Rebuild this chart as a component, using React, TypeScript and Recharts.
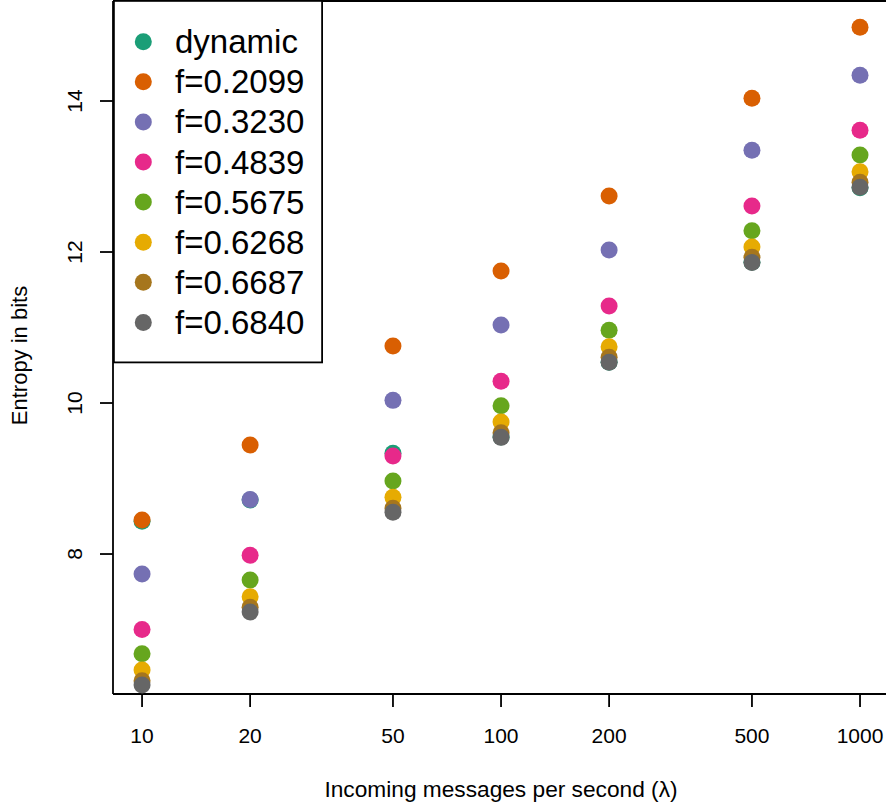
import React from 'react';
import { ScatterChart, Scatter, XAxis, YAxis, ReferenceLine, Legend } from 'recharts';

const X_VALUES = [10, 20, 50, 100, 200, 500, 1000];
const X_TICKS = [10, 20, 50, 100, 200, 500, 1000];
const Y_TICKS = [8, 10, 12, 14];

const SERIES_NAMES = ['dynamic', 'f=0.2099', 'f=0.3230', 'f=0.4839', 'f=0.5675', 'f=0.6268', 'f=0.6687', 'f=0.6840'];
const SERIES_COLORS = ['#1B9E77', '#D95F02', '#7570B3', '#E7298A', '#66A61E', '#E6AB02', '#A6761D', '#666666'];

const DYNAMIC = [8.435, 8.714, 9.335, 9.55, 10.54, 11.865, 12.85];
const F_2099 = [8.45, 9.444, 10.755, 11.748, 12.742, 14.035, 14.976];
const F_3230 = [7.735, 8.722, 10.035, 11.033, 12.026, 13.347, 14.34];
const F_4839 = [7.0, 7.983, 9.298, 10.287, 11.285, 12.609, 13.612];
const F_5675 = [6.68, 7.656, 8.967, 9.965, 10.963, 12.283, 13.285];
const F_6268 = [6.464, 7.435, 8.751, 9.748, 10.746, 12.066, 13.064];
const F_6687 = [6.32, 7.294, 8.605, 9.607, 10.605, 11.93, 12.923];
const F_6840 = [6.265, 7.232, 8.552, 9.545, 10.539, 11.86, 12.857];

const SERIES_VALUES = [DYNAMIC, F_2099, F_3230, F_4839, F_5675, F_6268, F_6687, F_6840];

const X_DOMAIN = [8.3, 1181.3];
const Y_DOMAIN = [6.146, 15.3245];

const FONT = '"Liberation Sans", Arial, Helvetica, sans-serif';
const AXIS_W = 1.8;

const XTick = (props: any) => {
  const { x, payload } = props;
  return (
    <text x={x} y={743} textAnchor="middle" fontFamily={FONT} fontSize={21} fill="#000">
      {payload.value}
    </text>
  );
};

const YTick = (props: any) => {
  const { y, payload } = props;
  return (
    <text transform={`translate(82,${y}) rotate(-90)`} textAnchor="middle" fontFamily={FONT} fontSize={21} fill="#000">
      {payload.value}
    </text>
  );
};

const renderXLabel = (p: any) => {
  const vb = p.viewBox || {};
  const cx = (vb.x ?? 113) + (vb.width ?? 773) / 2 + 1.5;
  return (
    <text x={cx} y={797} textAnchor="middle" fontFamily={FONT} fontSize={22.7} fill="#000">
      Incoming messages per second (λ)
    </text>
  );
};

const renderYLabel = (p: any) => {
  const vb = p.viewBox || {};
  const cy = (vb.y ?? 1) + (vb.height ?? 693) / 2 + 8;
  return (
    <text transform={`translate(27,${cy}) rotate(-90)`} textAnchor="middle" fontFamily={FONT} fontSize={22} fill="#000">
      Entropy in bits
    </text>
  );
};

const renderLegend = () => (
  <svg width={211} height={364} style={{ display: 'block' }}>
    <rect x={0.9} y={0.9} width={208.2} height={361.5} fill="#fff" stroke="#000" strokeWidth={AXIS_W} />
    {SERIES_NAMES.map((name, i) => (
      <g key={name}>
        <circle cx={30.3} cy={41.7 + i * 40.1} r={8.5} fill={SERIES_COLORS[i]} />
        <text x={62} y={41.7 + i * 40.1 + 11.5} fontFamily={FONT} fontSize={33} fill="#000">
          {name}
        </text>
      </g>
    ))}
  </svg>
);

const makeShape = (color: string) => (props: any) => (
  <circle cx={props.cx} cy={props.cy} r={8.5} fill={color} />
);

export default function App() {
  return (
    <div style={{ position: 'absolute', left: 0, top: 0, width: 886, height: 807, background: '#fff' }}>
      <ScatterChart width={886} height={807} margin={{ top: 1, right: 0, bottom: 0, left: 0 }}>
        <XAxis
          dataKey="x"
          type="number"
          scale="log"
          domain={X_DOMAIN}
          allowDataOverflow
          ticks={X_TICKS}
          interval={0}
          height={113}
          tickSize={13}
          tick={XTick}
          tickLine={{ stroke: '#000', strokeWidth: AXIS_W }}
          axisLine={{ stroke: '#000', strokeWidth: AXIS_W }}
          label={{ content: renderXLabel }}
        />
        <YAxis
          dataKey="y"
          type="number"
          domain={Y_DOMAIN}
          allowDataOverflow
          ticks={Y_TICKS}
          interval={0}
          width={113}
          tickSize={13}
          tick={YTick}
          tickLine={{ stroke: '#000', strokeWidth: AXIS_W }}
          axisLine={{ stroke: '#000', strokeWidth: AXIS_W }}
          label={{ content: renderYLabel }}
        />
        <ReferenceLine y={Y_DOMAIN[1]} stroke="#000" strokeWidth={AXIS_W} ifOverflow="visible" />
        {SERIES_NAMES.map((name, i) => (
          <Scatter
            key={name}
            name={name}
            data={X_VALUES.map((x, j) => ({ x, y: SERIES_VALUES[i][j] }))}
            fill={SERIES_COLORS[i]}
            shape={makeShape(SERIES_COLORS[i])}
            isAnimationActive={false}
          />
        ))}
        <Legend
          layout="vertical"
          align="center"
          verticalAlign="middle"
          wrapperStyle={{ left: 113, top: 0, width: 211, height: 364 }}
          content={renderLegend}
        />
      </ScatterChart>
    </div>
  );
}
